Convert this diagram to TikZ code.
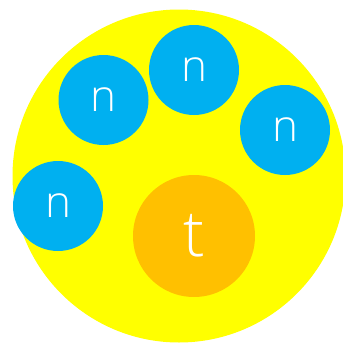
\documentclass[tikz,border=0pt]{standalone}
\usepackage{fontspec}
\setmainfont{Open Sans Light}
\definecolor{cellyellow}{HTML}{FFFF00}
\definecolor{nblue}{HTML}{00B0F0}
\definecolor{torange}{HTML}{FFC000}
\begin{document}
\begin{tikzpicture}[x=1pt, y=-1pt,
  neutron/.style={circle, fill=nblue, minimum size=90pt, inner sep=0pt, text=white, font=\fontsize{44}{44}\selectfont},
  target/.style={circle, fill=torange, minimum size=122pt, inner sep=0pt, text=white, font=\fontsize{64}{64}\selectfont}]
\useasboundingbox (0,0) rectangle (343,343);
\node[circle, fill=cellyellow, minimum size=333pt, inner sep=0pt] (cell) at (179,176) {};
\node[neutron] (n1) at (103.5,100) {n};
\node[neutron] (n2) at (194,70) {n};
\node[neutron] (n3) at (285,130) {n};
\node[neutron] (n4) at (58,206) {n};
\node[target] (t) at (194,236) {t};
\end{tikzpicture}
\end{document}
